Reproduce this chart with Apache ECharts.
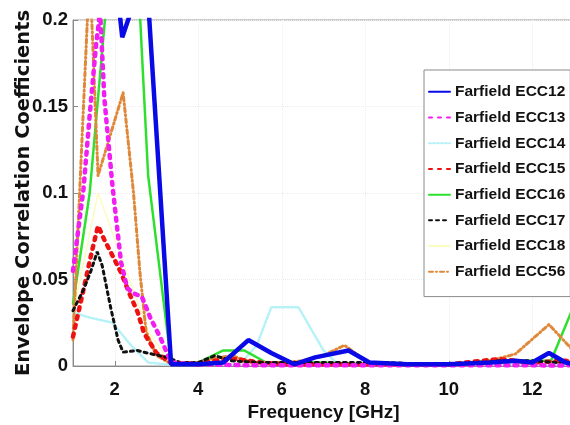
<!DOCTYPE html>
<html>
<head>
<meta charset="utf-8">
<script src="https://cdn.jsdelivr.net/npm/echarts@6/dist/echarts.min.js"></script>
<style>
html,body{margin:0;padding:0;background:#fff;}
#chart{width:570px;height:425px;}
</style>
</head>
<body>
<div id="chart"></div>
<script>
// ---- data ----
var seriesNames = ['Farfield ECC12','Farfield ECC13','Farfield ECC14','Farfield ECC15','Farfield ECC16','Farfield ECC17','Farfield ECC18','Farfield ECC56'];

var ecc12F = [1.0,1.6,2.0,2.18,2.6,2.75,3.35,4.0,4.6,5.2,5.75,6.3,6.8,7.6,8.1,9.0,10.0,11.0,11.6,12.0,12.4,12.8,13.0];
var ecc12V = [0.45,0.35,0.23,0.19,0.22,0.23,0.001,0.001,0.002,0.015,0.0075,0.001,0.005,0.009,0.002,0.001,0.001,0.002,0.003,0.002,0.0075,0.002,0.001];

var ecc13F = [1.0,1.25,1.4,1.55,1.65,1.75,1.95,2.15,2.3,2.45,2.65,2.85,3.1,3.35,4.0,5.0,6.0,7.0,8.0,9.0,10.0,11.0,12.0,12.6,13.0];
var ecc13V = [0.055,0.102,0.145,0.185,0.205,0.155,0.103,0.06,0.045,0.042,0.04,0.028,0.016,0.002,0.001,0.0005,0.0005,0.0005,0.0005,0.0005,0.0005,0.0005,0.0005,0.0002,0.0005];

var ecc14F = [1.0,1.4,1.95,2.35,2.8,3.2,4.0,5.0,5.4,5.75,6.4,7.0,7.3,8.0,9.0,10.0,11.0,12.0,13.0];
var ecc14V = [0.031,0.028,0.025,0.013,0.002,0.001,0.001,0.001,0.012,0.034,0.034,0.009,0.002,0.001,0.001,0.001,0.001,0.001,0.001];

var ecc15F = [1.0,1.25,1.45,1.6,1.75,1.9,2.15,2.35,2.55,2.7,3.0,3.35,4.0,4.4,4.9,5.5,6.0,7.0,8.0,9.0,10.0,11.2,12.0,12.8,13.0];
var ecc15V = [0.017,0.044,0.066,0.081,0.073,0.066,0.054,0.042,0.031,0.019,0.0075,0.002,0.001,0.003,0.004,0.002,0.001,0.001,0.001,0.001,0.001,0.004,0.002,0.003,0.002];

var ecc16F = [1.0,1.4,1.8,2.2,2.4,2.6,2.8,3.35,4.0,4.6,5.1,5.7,6.5,7.0,8.0,9.0,10.0,11.0,12.45,13.0];
var ecc16V = [0.036,0.1,0.21,0.3,0.3,0.205,0.11,0.002,0.002,0.009,0.009,0.001,0.002,0.002,0.001,0.001,0.001,0.003,0.003,0.035];

var ecc17F = [1.0,1.25,1.43,1.58,1.7,1.9,2.08,2.2,2.54,2.78,3.26,3.57,4.0,4.4,4.8,5.5,6.5,7.5,8.5,9.5,10.5,11.2,12.0,12.6,13.0];
var ecc17V = [0.032,0.044,0.055,0.066,0.058,0.034,0.015,0.008,0.009,0.0075,0.005,0.002,0.002,0.006,0.003,0.002,0.002,0.002,0.002,0.001,0.001,0.003,0.003,0.002,0.002];

var ecc18F = [1.0,1.6,2.2,2.8,3.35,5.0,7.0,9.0,11.0,13.0];
var ecc18V = [0.03,0.1,0.06,0.02,0.001,0.001,0.001,0.001,0.001,0.001];

var ecc56F = [1.0,1.4,1.6,2.2,2.45,2.6,2.75,3.0,3.3,4.0,4.3,4.8,5.3,6.0,6.5,7.0,7.5,7.9,8.2,9.0,10.0,11.0,11.6,12.4,12.9,13.0];
var ecc56V = [0.015,0.23,0.11,0.158,0.1,0.055,0.02,0.006,0.002,0.002,0.004,0.006,0.002,0.002,0.003,0.006,0.012,0.005,0.001,0.001,0.001,0.003,0.007,0.024,0.011,0.008];

var xTickValues = [2,4,6,8,10,12];
var yTickLabels = ['0','0.05','0.1','0.15','0.2'];

// ---- chart ----
function pairs(f, v){ var out=[]; for (var i=0;i<f.length;i++) out.push([f[i], v[i]]); return out; }

var FONT = "'Liberation Sans',Arial,sans-serif";

var styles = [
  {color:'#0a0ae6', width:4.5, type:'solid'},
  {color:'#f01ef0', width:4.5, type:[3,6]},
  {color:'#b4f2f8', width:2.5, type:[2,2]},
  {color:'#ee1111', width:4.5, type:[3,6]},
  {color:'#2de02d', width:2.5, type:'solid'},
  {color:'#111111', width:3, type:[3,4]},
  {color:'#fbfbc0', width:1.5, type:'solid'},
  {color:'#e0883a', width:3, type:[4,3,1,3]}
];
var dataSets = [
  pairs(ecc12F, ecc12V), pairs(ecc13F, ecc13V), pairs(ecc14F, ecc14V), pairs(ecc15F, ecc15V),
  pairs(ecc16F, ecc16V), pairs(ecc17F, ecc17V), pairs(ecc18F, ecc18V), pairs(ecc56F, ecc56V)
];
var drawOrder = [6,2,4,7,3,5,1,0];
var series = drawOrder.map(function(i){
  return {
    name: seriesNames[i], type:'line', data: dataSets[i], symbol:'none', clip:true,
    z: 2 + drawOrder.indexOf(i),
    lineStyle:{color:styles[i].color, width:styles[i].width, type:styles[i].type, cap:'round'},
    itemStyle:{color:styles[i].color}, animation:false
  };
});

var chart = echarts.init(document.getElementById('chart'), null, {renderer:'canvas'});
chart.setOption({
  animation:false,
  backgroundColor:'#ffffff',
  grid:{left:73, right:-4, top:20, bottom:59, show:true, borderColor:'#9a9a9a', borderWidth:1,
        backgroundColor:'transparent', containLabel:false, outerBoundsMode:'none'},
  legend:{
    data: seriesNames, orient:'vertical', left:424, top:70,
    itemWidth:21, itemHeight:3, itemGap:0,
    itemStyle:{opacity:0},
    backgroundColor:'#ffffff', borderColor:'#8a8a8a', borderWidth:1,
    padding:[9,5,12,4],
    textStyle:{fontFamily:FONT, fontWeight:'bold', fontSize:15.5, color:'#111', lineHeight:25.7}
  },
  xAxis:{
    type:'value', min:1, max:13,
    name:'Frequency [GHz]', nameLocation:'middle', nameGap:37, nameMoveOverlap:false,
    nameTextStyle:{fontFamily:FONT, fontWeight:'bold', fontSize:19, color:'#111'},
    axisLine:{show:true, lineStyle:{color:'#8a8a8a', width:1}},
    axisTick:{show:true, inside:true, length:5, customValues:xTickValues, lineStyle:{color:'#8a8a8a'}},
    axisLabel:{customValues:xTickValues, margin:14, fontFamily:FONT, fontWeight:'bold', fontSize:18.5, color:'#111'},
    splitLine:{show:true, lineStyle:{color:'#ececec', type:'dotted', width:1}}
  },
  yAxis:{
    type:'value', min:0, max:0.2, interval:0.05,
    name:'Envelope Correlation Coefficients', nameLocation:'middle', nameGap:39, nameMoveOverlap:false,
    nameTextStyle:{fontFamily:"'DejaVu Sans',sans-serif", fontWeight:'bold', fontSize:19.5, color:'#111'},
    axisLine:{show:true, lineStyle:{color:'#8a8a8a', width:1}},
    axisTick:{show:true, inside:true, length:5, lineStyle:{color:'#8a8a8a'}},
    axisLabel:{margin:5, fontFamily:FONT, fontWeight:'bold', fontSize:18.5, color:'#111',
      formatter:function(v){ return yTickLabels[Math.round(v/0.05)]; }},
    splitLine:{show:true, lineStyle:{color:'#ececec', type:'dotted', width:1}}
  },
  series: series
});
</script>
</body>
</html>
